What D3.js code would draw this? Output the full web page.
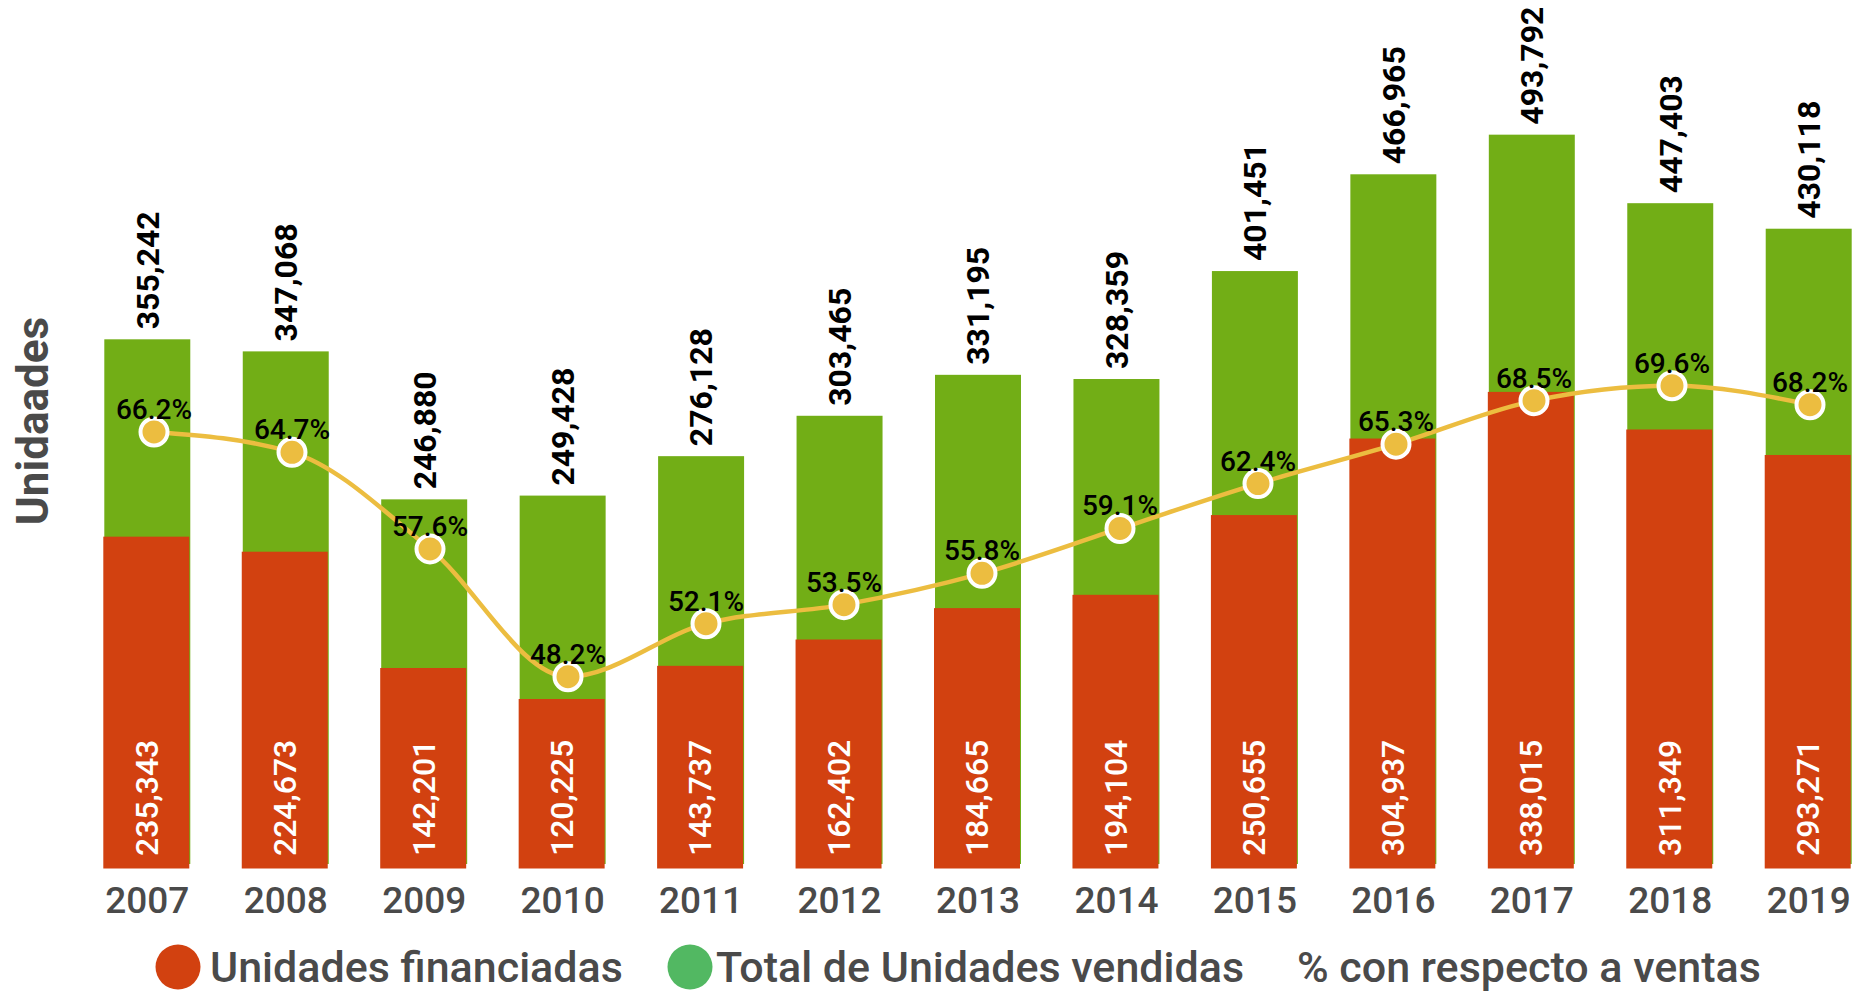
<!DOCTYPE html>
<html lang="es">
<head>
  <meta charset="UTF-8">
  <title>Unidades financiadas vs vendidas</title>
  <script src="https://cdnjs.cloudflare.com/ajax/libs/d3/7.8.5/d3.min.js"></script>
  <style>
    body { margin: 0; background: #fff; }
    svg { display: block; font-family: Roboto, "Noto Sans", sans-serif; }
  </style>
</head>
<body>
  <svg id="chart" width="1861" height="991"></svg>
  <script>
    // datos
    const years = ["2007","2008","2009","2010","2011","2012","2013","2014","2015","2016","2017","2018","2019"];
    const financiadas = [235343, 224673, 142201, 120225, 143737, 162402, 184665, 194104, 250655, 304937, 338015, 311349, 293271];
    const vendidas = [355242, 347068, 246880, 249428, 276128, 303465, 331195, 328359, 401451, 466965, 493792, 447403, 430118];
    const porcentaje = [66.2, 64.7, 57.6, 48.2, 52.1, 53.5, 55.8, 59.1, 62.4, 65.3, 68.5, 69.6, 68.2];
    const legendLabels = ["Unidades financiadas", "Total de Unidades vendidas", "% con respecto a ventas"];

    const rows = years.map((y, i) => ({year: y, fin: financiadas[i], tot: vendidas[i], pct: porcentaje[i]}));

    const svg = d3.select("#chart");
    const fmt = d3.format(",");

    const x = d3.scaleBand().domain(years).range([78, 1878]).paddingInner(0.379).paddingOuter(0.19);
    const xLine = d3.scalePoint().domain(years).range([154, 1810]);
    const yTot = d3.scaleLinear().domain([0, 500000]).range([864, 125.5]);
    const yFin = d3.scaleLinear().domain([0, 500000]).range([868.5, 163.5]);
    const yPct = d3.scaleLinear().domain([34.43, 88.73]).range([864, 125.5]);

    // barras verdes (total)
    svg.append("g").selectAll("rect")
      .data(rows).enter().append("rect")
      .attr("x", d => x(d.year))
      .attr("y", d => yTot(d.tot))
      .attr("width", x.bandwidth())
      .attr("height", d => yTot(0) - yTot(d.tot))
      .attr("fill", "#72ae16");

    // barras rojas (financiadas)
    svg.append("g").selectAll("rect")
      .data(rows).enter().append("rect")
      .attr("x", d => x(d.year) - 1)
      .attr("y", d => yFin(d.fin))
      .attr("width", x.bandwidth())
      .attr("height", d => yFin(0) - yFin(d.fin))
      .attr("fill", "#d24110");

    // etiquetas totales
    svg.append("g").selectAll("text")
      .data(rows).enter().append("text")
      .attr("transform", d => `translate(${x(d.year) + x.bandwidth() / 2},${yTot(d.tot) - 10}) rotate(-90)`)
      .attr("dy", "0.355em")
      .attr("font-size", 32)
      .attr("font-weight", 700)
      .attr("fill", "#000")
      .text(d => fmt(d.tot));

    // etiquetas financiadas
    svg.append("g").selectAll("text")
      .data(rows).enter().append("text")
      .attr("transform", d => `translate(${x(d.year) + x.bandwidth() / 2 - 1},856) rotate(-90)`)
      .attr("dy", "0.355em")
      .attr("font-size", 32)
      .attr("font-weight", 500)
      .attr("fill", "#fff")
      .text(d => fmt(d.fin));

    // linea porcentaje
    const line = d3.line()
      .x(d => xLine(d.year))
      .y(d => yPct(d.pct))
      .curve(d3.curveMonotoneX);

    svg.append("path")
      .datum(rows)
      .attr("fill", "none")
      .attr("stroke", "#ecbd40")
      .attr("stroke-width", 4.5)
      .attr("d", line);

    svg.append("g").selectAll("circle")
      .data(rows).enter().append("circle")
      .attr("cx", d => xLine(d.year))
      .attr("cy", d => yPct(d.pct))
      .attr("r", 13.5)
      .attr("fill", "#ecbd40")
      .attr("stroke", "#fff")
      .attr("stroke-width", 4);

    svg.append("g").selectAll("text")
      .data(rows).enter().append("text")
      .attr("x", d => xLine(d.year))
      .attr("y", d => yPct(d.pct) - 13)
      .attr("text-anchor", "middle")
      .attr("font-size", 28)
      .attr("font-weight", 500)
      .attr("fill", "#000")
      .text(d => d.pct.toFixed(1) + "%");

    // eje x
    const xAxis = svg.append("g")
      .attr("transform", "translate(0,868)")
      .call(d3.axisBottom(x).tickSize(0));
    xAxis.select(".domain").remove();
    xAxis.selectAll("text")
      .attr("y", 45)
      .attr("dy", 0)
      .attr("font-family", "Roboto, sans-serif")
      .attr("font-size", 37)
      .attr("font-weight", 500)
      .attr("fill", "#4a4a4a");

    // titulo eje y
    svg.append("text")
      .attr("transform", "translate(48,421) rotate(-90)")
      .attr("text-anchor", "middle")
      .attr("font-size", 44)
      .attr("font-weight", 700)
      .attr("fill", "#4a4a4a")
      .text("Unidaades");

    // leyenda
    const legendColors = ["#d24110", "#52b862", null];
    const legendDot = [178, 690, null];
    const legendTextX = [210, 716, 1297];
    const legend = svg.append("g");
    legendLabels.forEach((label, i) => {
      if (legendColors[i]) {
        legend.append("circle")
          .attr("cx", legendDot[i])
          .attr("cy", 967)
          .attr("r", 22.5)
          .attr("fill", legendColors[i]);
      }
      legend.append("text")
        .attr("x", legendTextX[i])
        .attr("y", 982)
        .attr("font-size", 43)
        .attr("font-weight", 500)
        .attr("fill", "#4a4a4a")
        .text(label);
    });
  </script>
</body>
</html>
